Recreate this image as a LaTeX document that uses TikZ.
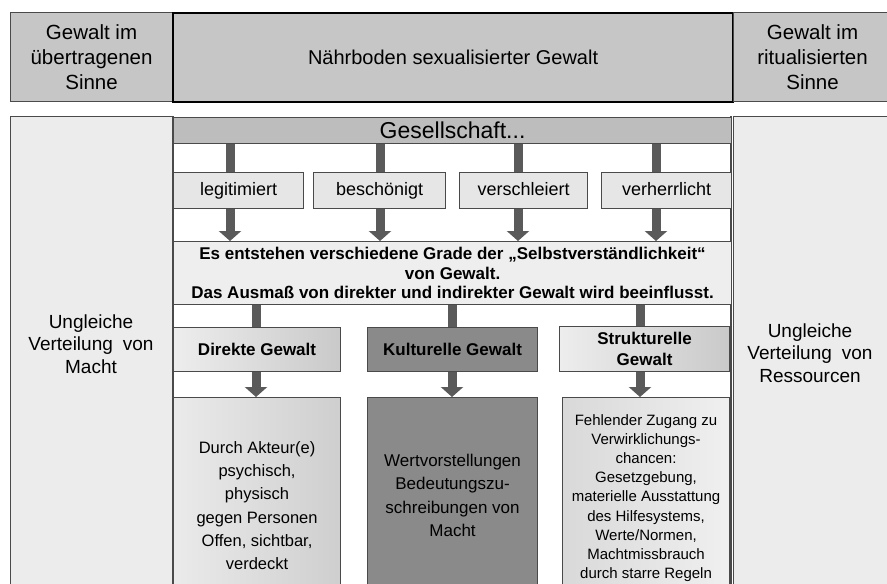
\documentclass[tikz,border=0pt]{standalone}
\usepackage{fontspec}
\setmainfont{Liberation Sans}
\usetikzlibrary{arrows.meta}

\definecolor{edge}{HTML}{4A4A4A}
\definecolor{topfill}{HTML}{C6C6C6}
\definecolor{sidefill}{HTML}{ECECEC}
\definecolor{barfill}{HTML}{BDBDBD}
\definecolor{smallfill}{HTML}{E6E6E6}
\definecolor{midfill}{HTML}{EEEEEE}
\definecolor{darkfill}{HTML}{8A8A8A}
\definecolor{arrowfill}{HTML}{5A5A5A}

\tikzset{
  cell/.style={draw=edge, line width=1.1pt, rectangle, anchor=north west,
    inner sep=0pt, align=center},
  headbox/.style={cell, fill=topfill, font=\fontsize{20.5}{25}\selectfont},
  sidebox/.style={cell, fill=sidefill},
  sidetext/.style={align=center, font=\fontsize{19}{22.5}\selectfont},
  smallbox/.style={cell, fill=smallfill, font=\fontsize{18}{20}\selectfont,
    text height=13pt, text depth=4pt},
  catbox/.style={cell, font=\bfseries\fontsize{17}{21}\selectfont},
  lowbox/.style={cell, font=\fontsize{16.5}{23.3}\selectfont},
  shaft/.style={draw=arrowfill, line width=9pt},
  shafthead/.style={shaft, -{Triangle[length=10pt,width=22pt]}}
}

\begin{document}
\begin{tikzpicture}[x=1pt,y=-1pt]
\useasboundingbox (0,0) rectangle (887,584);
\fill[white] (0,0) rectangle (887,584);

% top row
\node[headbox, minimum width=162, minimum height=89] (tl) at (10,12)
  {Gewalt im\\übertragenen\\Sinne};
\node[headbox, minimum width=560, minimum height=89, draw=black,
  line width=2.2pt, font=\fontsize{20}{23}\selectfont] (tm) at (172,12)
  {Nährboden sexualisierter Gewalt};
\node[headbox, minimum width=158, minimum height=89] (tr) at (733,12)
  {Gewalt im\\ritualisierten\\Sinne};

% side columns
\node[sidebox, minimum width=162, minimum height=480] (lc) at (10,116) {};
\node[sidebox, minimum width=160, minimum height=480] (rc) at (733,116) {};
\node[sidetext] (lct) at (91,344) {Ungleiche\\Verteilung\hspace{0.25em} von\\Macht};
\node[sidetext] (rct) at (810,353) {Ungleiche\\Verteilung\hspace{0.25em} von\\Ressourcen};

% middle column: white ground between the two side columns
\fill[white] (173,117) rectangle (731,600);
\draw[edge, line width=1.1pt] (173,116) -- (173,600) (731,116) -- (731,600);

\node[cell, fill=barfill, minimum width=558, minimum height=26,
  font=\fontsize{23}{26}\selectfont] (ges) at (173,117) {Gesellschaft...};

\node[smallbox, minimum width=130, minimum height=36] (legit) at (173,172) {legitimiert};
\node[smallbox, minimum width=132, minimum height=36] (besch) at (313,172) {beschönigt};
\node[smallbox, minimum width=128, minimum height=36] (versch) at (459,172) {verschleiert};
\node[smallbox, minimum width=130, minimum height=36] (verh) at (601,172) {verherrlicht};

\node[cell, fill=midfill, minimum width=558, minimum height=63,
  font=\bfseries\fontsize{17}{19.5}\selectfont] (es) at (173,241)
  {Es entstehen verschiedene Grade der „Selbstverständlichkeit“\\
   von Gewalt.\\
   Das Ausmaß von direkter und indirekter Gewalt wird beeinflusst.};

\node[catbox, left color=gray!14, right color=gray!42,
  minimum width=167, minimum height=44] (dir) at (173,327) {Direkte Gewalt};
\node[catbox, fill=darkfill, minimum width=170, minimum height=44] (kul) at (367,327)
  {Kulturelle Gewalt};
\node[catbox, left color=gray!14, right color=gray!42,
  minimum width=170, minimum height=45] (str) at (559,326)
  {Strukturelle\\Gewalt};

\node[lowbox, left color=gray!16, right color=gray!38,
  minimum width=167, minimum height=216] (akt) at (173,397)
  {Durch Akteur(e)\\psychisch,\\physisch\\gegen Personen\\Offen, sichtbar,\\verdeckt};
\node[lowbox, fill=darkfill, minimum width=170, minimum height=196,
  font=\fontsize{17}{23.3}\selectfont] (wer) at (367,397)
  {Wertvorstellungen\\Bedeutungszu-\\schreibungen von\\Macht};
\node[lowbox, left color=gray!30, right color=gray!12,
  minimum width=167, minimum height=201, font=\fontsize{15}{19.1}\selectfont]
  (feh) at (562,397)
  {Fehlender Zugang zu\\Verwirklichungs-\\chancen:\\Gesetzgebung,\\materielle Ausstattung\\
   des Hilfesystems,\\Werte/Normen,\\Machtmissbrauch\\durch starre Regeln};

% arrow columns
\coordinate (a1) at (230,0);
\coordinate (a2) at (380,0);
\coordinate (a3) at (518,0);
\coordinate (a4) at (656,0);
\coordinate (b1) at (256,0);
\coordinate (b2) at (452,0);
\coordinate (b3) at (640,0);

\draw[shaft] (ges.south -| a1) -- (legit.north -| a1);
\draw[shaft] (ges.south -| a2) -- (besch.north -| a2);
\draw[shaft] (ges.south -| a3) -- (versch.north -| a3);
\draw[shaft] (ges.south -| a4) -- (verh.north -| a4);
\draw[shafthead] (legit.south -| a1) -- (es.north -| a1);
\draw[shafthead] (besch.south -| a2) -- (es.north -| a2);
\draw[shafthead] (versch.south -| a3) -- (es.north -| a3);
\draw[shafthead] (verh.south -| a4) -- (es.north -| a4);

\draw[shaft] (es.south -| b1) -- (dir.north -| b1);
\draw[shaft] (es.south -| b2) -- (kul.north -| b2);
\draw[shaft] (es.south -| b3) -- (str.north -| b3);
\draw[shafthead] (dir.south -| b1) -- (akt.north -| b1);
\draw[shafthead] (kul.south -| b2) -- (wer.north -| b2);
\draw[shafthead] (str.south -| b3) -- (feh.north -| b3);
\end{tikzpicture}
\end{document}
